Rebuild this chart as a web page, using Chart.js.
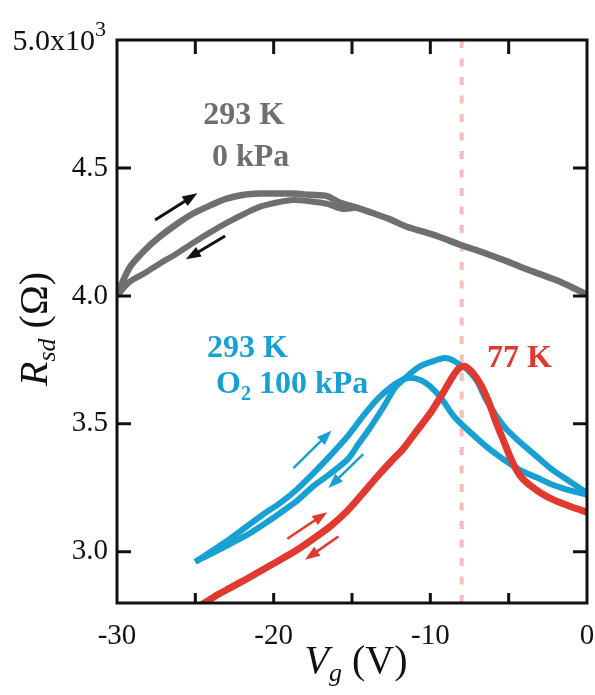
<!DOCTYPE html>
<html>
<head>
<meta charset="utf-8">
<script src="https://cdn.jsdelivr.net/npm/chart.js@4"></script>
<style>
  html, body { margin: 0; padding: 0; background: #fff; }
  #wrap { width: 595px; height: 695px; position: relative; }
</style>
</head>
<body>
<div id="wrap"><canvas id="chart"></canvas></div>
<script>
// values: gate voltage Vg (V) vs Rsd (x10^3 ohm)
const grayFwdV = [-30, -29.2, -28.2, -27.3, -26.2, -25.2, -24.0, -23.0, -21.9, -20.9, -19.8, -18.8, -17.7, -16.6, -15.8, -14.7, -13.7, -12.6, -11.5, -10.4, -9.4, -8.1, -7.1, -6.2, -5.1, -4.1, -3.0, -1.9, -1.0, 0];
const grayFwdR = [4.004, 4.11, 4.18, 4.23, 4.28, 4.32, 4.355, 4.38, 4.395, 4.40, 4.40, 4.40, 4.395, 4.39, 4.365, 4.345, 4.324, 4.30, 4.27, 4.25, 4.23, 4.20, 4.18, 4.16, 4.135, 4.11, 4.085, 4.06, 4.035, 4.005];
const grayBackV = [-14.7, -15.6, -16.6, -17.7, -18.8, -19.8, -20.9, -21.9, -23.0, -24.0, -25.2, -26.2, -27.3, -28.2, -29.2, -30];
const grayBackR = [4.345, 4.34, 4.36, 4.37, 4.375, 4.365, 4.348, 4.32, 4.285, 4.25, 4.205, 4.165, 4.125, 4.09, 4.055, 4.0];

const blueFwdV = [-25, -23.9, -22.8, -21.7, -20.7, -19.6, -18.5, -17.5, -16.4, -15.3, -14.3, -13.4, -12.7, -12.0, -11.3, -10.6, -10.0, -9.3, -8.5, -7.5, -6.4, -5.3, -4.3, -3.2, -2.2, -1.1, 0];
const blueFwdR = [2.96, 3.005, 3.05, 3.10, 3.145, 3.19, 3.245, 3.305, 3.375, 3.45, 3.53, 3.595, 3.635, 3.665, 3.68, 3.67, 3.646, 3.60, 3.53, 3.47, 3.41, 3.36, 3.32, 3.29, 3.262, 3.24, 3.223];
const blueBackV = [0, -1.1, -2.2, -3.2, -4.3, -5.3, -6.4, -7.0, -7.6, -8.1, -8.6, -9.1, -9.8, -10.7, -11.4, -12.2, -13.0, -13.9, -14.6, -15.3, -16.4, -17.5, -18.5, -19.6, -20.7, -21.7, -22.8, -23.9, -25];
const blueBackR = [3.23, 3.275, 3.32, 3.372, 3.43, 3.49, 3.59, 3.665, 3.71, 3.73, 3.75, 3.757, 3.745, 3.724, 3.69, 3.645, 3.565, 3.48, 3.42, 3.36, 3.305, 3.255, 3.2, 3.151, 3.105, 3.066, 3.03, 2.995, 2.962];

const redV = [-24.8, -23.5, -22.8, -21.7, -20.7, -19.6, -18.5, -17.5, -16.4, -15.3, -14.3, -13.2, -12.4, -11.7, -10.9, -10.0, -9.3, -8.7, -8.2, -7.8, -7.3, -6.8, -6.3, -5.8, -5.3, -4.9, -4.5, -4.1, -3.6, -2.9, -2.2, -1.1, 0];
const redR = [2.785, 2.835, 2.858, 2.895, 2.93, 2.968, 3.008, 3.05, 3.099, 3.16, 3.229, 3.307, 3.36, 3.405, 3.47, 3.542, 3.61, 3.672, 3.715, 3.725, 3.70, 3.655, 3.59, 3.505, 3.43, 3.37, 3.32, 3.285, 3.258, 3.228, 3.205, 3.178, 3.155];

// sweep direction arrows: [tailV, tailR, tipV, tipR]
const grayArrows = [[-27.57, 4.297, -24.87, 4.401], [-23.1, 4.234, -25.6, 4.143]];
const blueArrows = [[-18.74, 3.327, -16.3, 3.474], [-14.28, 3.382, -16.51, 3.249]];
const redArrows = [[-19.13, 3.051, -16.58, 3.155], [-15.87, 3.06, -18.0, 2.969]];

const xTicks = [-30, -25, -20, -15, -10, -5, 0];
const yTicks = [3.0, 3.5, 4.0, 4.5, 5.0];
const dashV = -8;

const GRAY = '#6f6f6f';
const BLUE = '#17a0d3';
const RED = '#e1392f';
const DASH = '#f4bfba';
const SERIF = '"Liberation Serif", "Times New Roman", serif';

function toPoints(vs, rs) {
  return vs.map((v, i) => ({ x: v, y: rs[i] }));
}

function curve(label, vs, rs, color, width) {
  return {
    label, data: toPoints(vs, rs), showLine: true,
    borderColor: color, borderWidth: width, pointRadius: 0,
    tension: 0.3, fill: false
  };
}

function drawArrow(ctx, x, y, a, color, w) {
  const [tv, tr, hv, hr] = a;
  const x1 = x.getPixelForValue(tv), y1 = y.getPixelForValue(tr);
  const x2 = x.getPixelForValue(hv), y2 = y.getPixelForValue(hr);
  const ang = Math.atan2(y2 - y1, x2 - x1);
  const hl = 15, hw = 5.5;
  ctx.strokeStyle = color;
  ctx.fillStyle = color;
  ctx.lineWidth = w;
  ctx.beginPath();
  ctx.moveTo(x1, y1);
  ctx.lineTo(x2 - Math.cos(ang) * hl * 0.8, y2 - Math.sin(ang) * hl * 0.8);
  ctx.stroke();
  ctx.beginPath();
  ctx.moveTo(x2, y2);
  ctx.lineTo(x2 - Math.cos(ang) * hl - Math.sin(ang) * hw, y2 - Math.sin(ang) * hl + Math.cos(ang) * hw);
  ctx.lineTo(x2 - Math.cos(ang) * hl + Math.sin(ang) * hw, y2 - Math.sin(ang) * hl - Math.cos(ang) * hw);
  ctx.closePath();
  ctx.fill();
}

// text parts: [text, font, baseline shift]
function drawParts(ctx, parts, x0, y0, align) {
  let w = 0;
  parts.forEach(p => { ctx.font = p[1]; w += ctx.measureText(p[0]).width; });
  let cx = align === 'center' ? x0 - w / 2 : align === 'right' ? x0 - w : x0;
  ctx.textAlign = 'left';
  ctx.textBaseline = 'alphabetic';
  parts.forEach(p => {
    ctx.font = p[1];
    ctx.fillText(p[0], cx, y0 + (p[2] || 0));
    cx += ctx.measureText(p[0]).width;
  });
}

const BOLD = 'bold 32px ' + SERIF;
const notes = [
  { parts: [['293 K', BOLD]], v: -24.5, r: 4.672, color: GRAY },
  { parts: [['0 kPa', BOLD]], v: -23.94, r: 4.508, color: GRAY },
  { parts: [['293 K', BOLD]], v: -24.26, r: 3.762, color: BLUE },
  { parts: [['O', BOLD], ['2', 'bold 20px ' + SERIF, 7], [' 100 kPa', BOLD]], v: -23.68, r: 3.621, color: BLUE },
  { parts: [['77 K', BOLD]], v: -6.38, r: 3.723, color: RED }
];

const framePlugin = {
  id: 'frame',
  afterDatasetsDraw(chart) {
    const { ctx, chartArea: a, scales: { x, y } } = chart;
    ctx.save();

    // arrows
    grayArrows.forEach(ar => drawArrow(ctx, x, y, ar, '#111', 3));
    blueArrows.forEach(ar => drawArrow(ctx, x, y, ar, BLUE, 2.5));
    redArrows.forEach(ar => drawArrow(ctx, x, y, ar, RED, 2.5));

    // labels
    notes.forEach(n => {
      ctx.fillStyle = n.color;
      drawParts(ctx, n.parts, x.getPixelForValue(n.v), y.getPixelForValue(n.r), 'left');
    });

    // box + inward ticks
    ctx.strokeStyle = '#111';
    ctx.lineWidth = 3;
    ctx.strokeRect(a.left, a.top, a.right - a.left, a.bottom - a.top);
    ctx.beginPath();
    xTicks.forEach(v => {
      if (v === xTicks[0] || v === xTicks[xTicks.length - 1]) return;
      const px = x.getPixelForValue(v);
      ctx.moveTo(px, a.bottom); ctx.lineTo(px, a.bottom - 10);
      ctx.moveTo(px, a.top); ctx.lineTo(px, a.top + 14);
    });
    yTicks.forEach(v => {
      const py = y.getPixelForValue(v);
      if (py <= a.top + 1) return;
      ctx.moveTo(a.left, py); ctx.lineTo(a.left + 14, py);
      ctx.moveTo(a.right, py); ctx.lineTo(a.right - 14, py);
    });
    ctx.stroke();

    // top y label with exponent
    ctx.fillStyle = '#111';
    const topY = y.getPixelForValue(yTicks[yTicks.length - 1]);
    drawParts(ctx, [['5.0x10', '30px ' + SERIF], ['3', '22px ' + SERIF, -14]], 106, topY + 10, 'right');

    // axis titles
    drawParts(ctx, [['V', 'italic 40px ' + SERIF], ['g', 'italic 26px ' + SERIF, 8], [' (V)', '40px ' + SERIF]], 356, 673, 'center');
    ctx.translate(47, 329);
    ctx.rotate(-Math.PI / 2);
    drawParts(ctx, [['R', 'italic 40px ' + SERIF], ['sd', 'italic 26px ' + SERIF, 8], [' (\u03A9)', '40px ' + SERIF]], 0, 0, 'center');

    ctx.restore();
  }
};

const tickFont = { family: SERIF, size: 29 };

new Chart(document.getElementById('chart'), {
  type: 'scatter',
  data: {
    datasets: [
      curve('77 K', redV, redR, RED, 7),
      curve('293 K O2 back', blueBackV, blueBackR, BLUE, 6),
      curve('293 K O2 fwd', blueFwdV, blueFwdR, BLUE, 6),
      curve('293 K 0 kPa back', grayBackV, grayBackR, GRAY, 6),
      curve('293 K 0 kPa fwd', grayFwdV, grayFwdR, GRAY, 6.5),
      {
        label: 'Vg = -8 V',
        data: [{ x: dashV, y: 2.8 }, { x: dashV, y: 5.0 }],
        showLine: true, pointRadius: 0,
        borderColor: DASH, borderWidth: 4, borderDash: [8, 10.5]
      }
    ]
  },
  options: {
    responsive: true,
    maintainAspectRatio: false,
    animation: false,
    layout: { padding: { top: 40, right: 8, left: 0, bottom: 0 } },
    plugins: { legend: { display: false }, tooltip: { enabled: false } },
    scales: {
      x: {
        type: 'linear', min: -30, max: 0,
        afterBuildTicks: s => { s.ticks = xTicks.map(v => ({ value: v })); },
        afterFit: s => { s.height = 92; s.paddingLeft = 0; s.paddingRight = 0; },
        grid: { display: false, drawTicks: false },
        border: { display: false },
        ticks: {
          autoSkip: false, maxRotation: 0, padding: 16, color: '#111', font: tickFont,
          callback: v => (v % 10 === 0 ? String(v) : '')
        }
      },
      y: {
        type: 'linear', min: 2.8, max: 5.0,
        afterBuildTicks: s => { s.ticks = yTicks.map(v => ({ value: v })); },
        afterFit: s => { s.width = 117; s.paddingTop = 0; s.paddingBottom = 0; },
        grid: { display: false, drawTicks: false },
        border: { display: false },
        ticks: {
          padding: 9, color: '#111', font: tickFont,
          callback: v => (v === 5 ? '' : v.toFixed(1))
        }
      }
    }
  },
  plugins: [framePlugin]
});
</script>
</body>
</html>
